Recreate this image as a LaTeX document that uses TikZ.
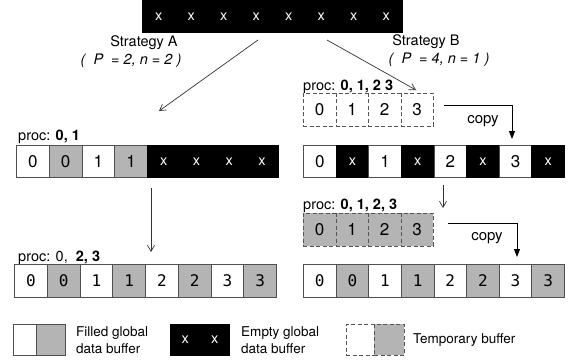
\documentclass[tikz,border=0pt]{standalone}
\usepackage{fontspec}
\setmainfont{TeX Gyre Heros}
\newfontfamily\monodigits{DejaVu Sans Mono}
\usetikzlibrary{arrows.meta}
\definecolor{cellgray}{HTML}{B4B4B4}
\definecolor{cellline}{HTML}{505050}
\definecolor{dashline}{HTML}{555555}
\definecolor{arrowgray}{HTML}{333333}

\tikzset{
  cellbase/.style={draw=cellline, line width=0.9pt, minimum height=32pt,
    inner sep=0pt, anchor=north west, font=\fontsize{17}{17}\selectfont},
  wcell/.style={cellbase, fill=white},
  gcell/.style={cellbase, fill=cellgray},
  xcell/.style={cellbase, draw=black, fill=black, text=white,
    font=\fontsize{14.5}{14.5}\selectfont},
  mw/.style={wcell, font=\monodigits\fontsize{16}{16}\selectfont},
  mg/.style={gcell, font=\monodigits\fontsize{16}{16}\selectfont},
  tw/.style={cellbase, draw=dashline, dash pattern=on 4pt off 2.5pt, fill=white},
  tg/.style={cellbase, draw=dashline, dash pattern=on 4pt off 2.5pt, fill=cellgray},
  lbl/.style={inner sep=0pt, font=\fontsize{13.5}{17}\selectfont},
  headlbl/.style={inner sep=0pt, font=\fontsize{14.5}{17}\selectfont},
  proclbl/.style={inner sep=0pt, anchor=base west, font=\fontsize{14.5}{17}\selectfont},
  copylbl/.style={inner sep=0pt, font=\fontsize{15}{17}\selectfont},
  thinarrow/.style={draw=arrowgray, line width=0.7pt,
    -{Straight Barb[length=6pt,width=7pt]}},
  copyarrow/.style={draw=black, line width=0.9pt,
    -{Triangle[length=8pt,width=6pt]}},
}

\begin{document}
\begin{tikzpicture}[x=1pt,y=-1pt]
\useasboundingbox (0,0) rectangle (574,364);

% source buffer (empty)
\foreach \i in {1,...,8}
  \node[xcell, minimum width=32.5pt] (t\i) at ({142+(\i-1)*32.5}, 0) {x};

% strategy headings
\node[headlbl] (sa) at (144,43) {Strategy A};
\node[headlbl, font=\fontsize{14.5}{17}\selectfont\itshape] (pa) at (131,61) {(\ \ P \ = 2, n = 2 )};
\node[headlbl] (sb) at (426,42) {Strategy B};
\node[headlbl, font=\fontsize{14.5}{17}\selectfont\itshape] (pb) at (439,60) {( \ P \ = 4, n = 1 )};

% ---- Strategy A ----
\node[proclbl] (pla) at (18,140) {proc: \textbf{0, 1}};
\foreach \s/\t [count=\i] in {wcell/0, gcell/0, wcell/1, gcell/1, xcell/x, xcell/x, xcell/x, xcell/x}
  \node[\s, minimum width=32.75pt] (la\i) at ({16+(\i-1)*32.75}, 145) {\t};

\node[proclbl] (plb) at (18,261) {proc: 0, \ \textbf{2, 3}};
\foreach \s/\t [count=\i] in {mw/0, mg/0, mw/1, mg/1, mw/2, mg/2, mw/3, mg/3}
  \node[\s, minimum width=32.75pt, minimum height=33pt] (lb\i) at ({14+(\i-1)*32.75}, 264) {\t};

% ---- Strategy B ----
\node[proclbl] (pra) at (303,90) {proc: \textbf{0, 1, 2 3}};
\foreach \s/\t [count=\i] in {tw/0, tw/1, tw/2, tw/3}
  \node[\s, minimum width=32.5pt, minimum height=33pt] (ta\i) at ({303+(\i-1)*32.5}, 93) {\t};

\foreach \s/\t [count=\i] in {wcell/0, xcell/x, wcell/1, xcell/x, wcell/2, xcell/x, wcell/3, xcell/x}
  \node[\s, minimum width=32.625pt] (ra\i) at ({303+(\i-1)*32.625}, 145) {\t};

\node[proclbl] (prb) at (303,209) {proc: \textbf{0, 1, 2, 3}};
\foreach \s/\t [count=\i] in {tg/0, tg/1, tg/2, tg/3}
  \node[\s, minimum width=32.5pt, minimum height=33pt] (tb\i) at ({303+(\i-1)*32.5}, 213) {\t};

\foreach \s/\t [count=\i] in {mw/0, mg/0, mw/1, mg/1, mw/2, mg/2, mw/3, mg/3}
  \node[\s, minimum width=32.625pt, minimum height=33pt] (rb\i) at ({303+(\i-1)*32.625}, 264) {\t};

% connector end points
\coordinate (aS) at (258,40);  \coordinate (aE) at (159,111);
\coordinate (bS) at (327,40);  \coordinate (bE) at (416,90);
\coordinate (dS) at (151,188); \coordinate (dE) at (151,252);
\coordinate (eS) at (443,185); \coordinate (eE) at (443,208);
\coordinate (c1S) at (444,105); \coordinate (c1E) at (512,139);
\coordinate (c2S) at (448,223); \coordinate (c2E) at (517,257);

\draw[thinarrow] (aS) -- (aE);
\draw[thinarrow] (bS) -- (bE);
\draw[thinarrow] (dS) -- (dE);
\draw[thinarrow] (eS) -- (eE);
\draw[copyarrow] (c1S) -| (c1E);
\draw[copyarrow] (c2S) -| (c2E);
\node[copylbl] (cp1) at (483,121) {copy};
\node[copylbl] (cp2) at (487,238) {copy};

% ---- legend ----
\node[wcell, minimum width=23pt, minimum height=31pt] (lgw) at (13,324) {};
\node[gcell, minimum width=29pt, minimum height=31pt] (lgg) at (36,324) {};
\node[lbl, anchor=west, align=left] (lgf) at (76,340) {Filled global\\data buffer};

\node[xcell, minimum width=29.5pt, minimum height=31pt] (lex1) at (170,324) {x};
\node[xcell, minimum width=29.5pt, minimum height=31pt] (lex2) at (199.5,324) {x};
\node[lbl, anchor=west, align=left] (lge) at (241,340) {Empty global\\data buffer};

\node[tw, minimum width=28pt, minimum height=31pt] (ltw) at (346,324) {};
\node[tg, minimum width=30pt, minimum height=31pt] (ltg) at (374,324) {};
\node[lbl, anchor=west] (lgt) at (413,340) {Temporary buffer};
\end{tikzpicture}
\end{document}
